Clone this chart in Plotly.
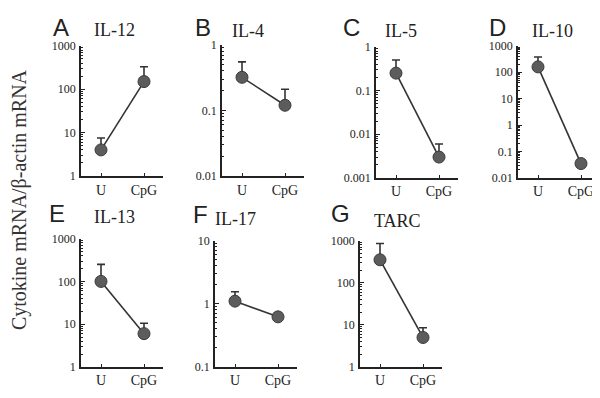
import plotly.graph_objects as go

letters = ["A", "B", "C", "D", "E", "F", "G"]
titles = ["IL-12", "IL-4", "IL-5", "IL-10", "IL-13", "IL-17", "TARC"]
categories = ["U", "CpG"]
u_mean = [4, 0.32, 0.25, 160, 100, 1.1, 350]
cpg_mean = [150, 0.12, 0.003, 0.035, 6, 0.62, 5]
u_upper = [7.5, 0.55, 0.5, 380, 250, 1.55, 850]
cpg_upper = [330, 0.21, 0.006, 0.035, 10.5, 0.72, 8.5]
decade_min = [0, -2, -3, -2, 0, -1, 0]
decade_max = [3, 0, 0, 3, 3, 1, 3]
ytitle = "Cytokine mRNA/β-actin mRNA"

# layout (reference pixel coordinates; page body has an 8px margin)
OFF = 8
W, H = 592, 390
boxes = [
    (81, 163, 40, 175),
    (222, 304, 39, 175),
    (376, 458, 41, 177),
    (518, 600, 40, 177),
    (81, 163, 240, 373),
    (215, 297, 242, 373),
    (360, 442, 242, 373),
]
letter_pos = [(61, 21), (203, 21), (351, 21), (497, 21), (57, 214), (201, 215), (340, 214)]
title_pos = [(92, 24), (230, 25), (383, 25), (530, 25), (92, 218), (213, 220), (372, 222)]


def px(x):
    return (x - OFF) / W


def py(y):
    return 1 - (y - OFF) / H


def fmt(v):
    if v >= 1:
        return str(int(round(v)))
    return ("%.6f" % v).rstrip("0")


fig = go.Figure()
serif = "Liberation Serif"
for i in range(7):
    n = i + 1
    xa = "x" if n == 1 else "x%d" % n
    ya = "y" if n == 1 else "y%d" % n
    fig.add_trace(go.Scatter(
        x=[0, 1], y=[u_mean[i], cpg_mean[i]],
        xaxis=xa, yaxis=ya, mode="lines+markers",
        line=dict(color="#333333", width=1.6),
        marker=dict(size=12, color="#5c5c5c", line=dict(color="#3a3a3a", width=1)),
        error_y=dict(type="data", symmetric=False,
                     array=[u_upper[i] - u_mean[i], cpg_upper[i] - cpg_mean[i]],
                     arrayminus=[0, 0], color="#333333", thickness=1.6, width=4),
        showlegend=False, cliponaxis=False,
    ))
    x0, x1, yt, yb = boxes[i]
    lo, hi = decade_min[i], decade_max[i]
    majors = [10 ** k for k in range(lo, hi + 1)]
    minors = [m * 10 ** k for k in range(lo, hi) for m in range(2, 10)]
    xkey = "xaxis" if n == 1 else "xaxis%d" % n
    ykey = "yaxis" if n == 1 else "yaxis%d" % n
    scale = 43.0
    fig.update_layout({
        xkey: dict(domain=[px(x0), min(px(x1), 1.0)], anchor=ya,
                   range=[-20 / scale, (x1 - x0 - 20) / scale],
                   tickvals=[0, 1], ticktext=categories,
                   ticks="inside", ticklen=3, tickwidth=1.2, tickcolor="#222",
                   showline=True, linecolor="#222", linewidth=1.5,
                   showgrid=False, zeroline=False,
                   tickfont=dict(family=serif, size=14, color="#222")),
        ykey: dict(domain=[py(yb), py(yt)], anchor=xa, type="log",
                   range=[lo, hi],
                   tickvals=majors, ticktext=[fmt(v) for v in majors],
                   ticks="inside", ticklen=4, tickwidth=1.2, tickcolor="#222",
                   minor=dict(tickvals=minors, ticks="inside", ticklen=2.5,
                              tickwidth=1, tickcolor="#222"),
                   showline=True, linecolor="#222", linewidth=1.5,
                   showgrid=False, zeroline=False, ticklabelstandoff=1,
                   tickfont=dict(family=serif, size=12, color="#222")),
    })
    lx, ly = letter_pos[i]
    fig.add_annotation(x=px(lx), y=py(ly), xref="paper", yref="paper",
                       text=letters[i], showarrow=False, xanchor="center", yanchor="middle",
                       font=dict(family="Liberation Sans", size=24, color="#222"))
    tx, ty = title_pos[i]
    fig.add_annotation(x=px(tx), y=py(ty), xref="paper", yref="paper",
                       text=titles[i], showarrow=False, xanchor="left", yanchor="middle",
                       font=dict(family=serif, size=18, color="#222"))

fig.add_annotation(x=px(19), y=py(200), xref="paper", yref="paper",
                   text=ytitle, showarrow=False, textangle=-90,
                   xanchor="center", yanchor="middle", borderpad=0,
                   font=dict(family=serif, size=20, color="#333"))

fig.update_layout(width=W, height=H, margin=dict(l=0, r=0, t=0, b=0),
                  paper_bgcolor="white", plot_bgcolor="white")
fig.write_html("out.html")
